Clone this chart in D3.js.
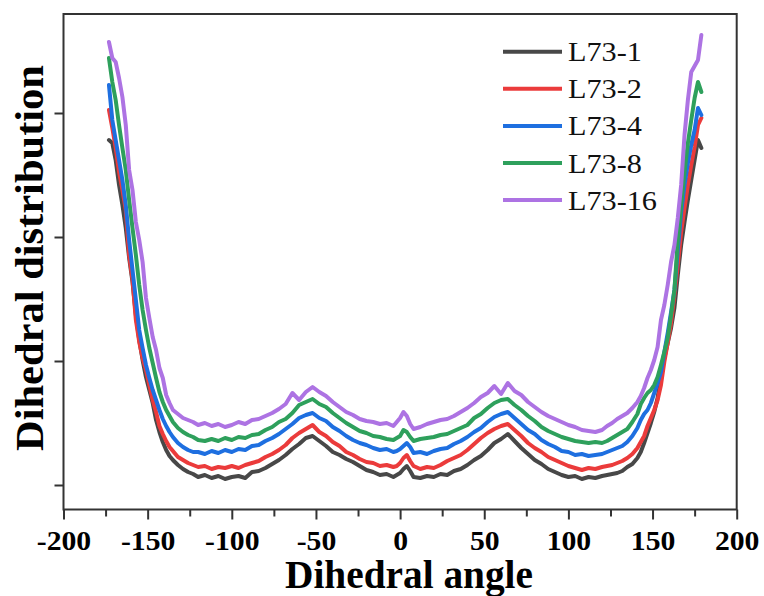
<!DOCTYPE html>
<html>
<head>
<meta charset="utf-8">
<script src="https://cdn.jsdelivr.net/npm/d3@7"></script>
<style>
  html, body { margin: 0; padding: 0; background: #fff; }
  svg { display: block; }
</style>
</head>
<body>
<svg id="chart" width="764" height="596"></svg>
<script>
// ---------------- data ----------------
const seriesNames = ["L73-1", "L73-2", "L73-4", "L73-8", "L73-16"];
const seriesColors = ["#484848", "#eb3b3b", "#1e6fe0", "#2ea05c", "#ad73e3"];

const xTickValues = [-200, -150, -100, -50, 0, 50, 100, 150, 200];
const xTickLabels = ["-200", "-150", "-100", "-50", "0", "50", "100", "150", "200"];
const xMinorTicks = [-175, -125, -75, -25, 25, 75, 125, 175];
const yTickValues = [0, 124, 248, 372];

const angles = [
  -173,-171,-169,-167,-165,-163,-161,-159,-157,-155,-153,-151,-149,-147,-145,-143,-141,-139,-137,-135,-132,-129,-126,-123,
  -120,-116,-112,-108,-104,-100,-96,-92,-88,-84,-80,-76,-72,-68,-64,-60,-56,-52,-48,-44,-40,-36,-32,-28,-24,-20,-16,-12,-8,-4,
  -2,0,2,4,6,8,
  12,16,20,24,28,32,36,40,44,48,52,56,60,64,68,72,76,80,84,88,92,96,100,104,108,112,116,120,
  123,126,129,132,135,138,141,143,145,147,149,151,153,155,157,159,161,163,165,167,169,171,173,175,177,179
];

const l73_1 = [
  345,342,325,300,280,257,227,203,170,145,125,108,95,82,65,53,43,35,29,25,20,16,13,11,
  8,10,7,9,6,8,9,7,13,14,17,21,25,30,36,41,47,49,44,39,33,30,26,23,19,15,13,10,11,8,
  10,12,16,19,14,8,
  7,9,8,11,10,14,16,20,25,29,35,42,46,51,44,37,31,25,21,16,13,10,8,9,6,8,7,9,
  10,11,12,14,18,21,27,33,42,52,62,73,87,109,127,142,157,177,210,240,263,285,305,325,345,337
];
const l73_2 = [
  375,357,337,313,295,275,230,205,165,143,127,115,100,85,73,59,51,44,38,34,28,25,22,20,
  18,19,16,18,17,19,17,20,22,24,28,31,35,40,47,52,56,60,53,49,43,39,33,30,26,23,22,19,20,18,
  19,22,27,30,24,19,
  16,18,17,20,24,27,30,35,41,47,52,56,59,61,55,49,42,37,33,28,25,22,19,17,15,17,16,18,
  19,20,22,24,27,31,37,43,49,59,67,75,85,100,123,142,162,190,220,253,277,300,320,338,360,367
];
const l73_4 = [
  400,365,345,325,305,280,245,215,185,155,137,120,107,95,85,75,66,59,53,48,42,38,35,33,
  33,31,34,32,35,33,36,35,39,40,44,47,51,56,61,67,70,72,67,64,58,54,49,45,42,40,37,35,36,33,
  34,36,39,42,38,32,
  33,31,34,36,37,41,44,48,53,57,63,68,71,73,67,61,55,51,45,41,38,34,33,30,31,29,30,31,
  33,35,37,39,43,49,57,65,71,75,82,92,102,113,133,152,173,195,235,273,300,322,340,355,377,370
];
const l73_8 = [
  427,403,385,360,337,315,285,257,230,200,175,155,137,122,107,93,83,75,69,63,57,53,50,48,
  45,44,46,44,47,45,48,47,50,51,55,58,63,66,72,80,83,86,81,78,72,67,62,58,54,52,49,48,46,45,
  47,49,55,53,48,44,
  46,47,48,50,51,54,57,60,67,71,77,82,85,86,80,75,69,64,58,54,51,48,46,44,43,42,43,42,
  44,47,50,53,56,63,71,81,87,92,95,100,108,120,133,147,170,195,245,280,313,342,365,387,403,393
];
const l73_16 = [
  443,427,423,407,388,360,315,295,263,245,223,187,167,148,135,117,107,90,82,75,71,67,65,63,
  60,62,59,61,58,60,63,61,65,66,69,72,76,81,92,85,93,98,93,89,83,78,73,70,66,64,63,61,62,59,
  63,67,73,69,61,56,
  58,61,63,65,66,69,73,77,82,88,92,99,91,102,94,90,83,78,73,69,66,63,60,58,55,54,53,55,
  59,62,66,69,72,77,83,89,97,107,115,125,138,165,180,200,223,240,267,300,350,385,413,419,425,450
];

const seriesValues = [l73_1, l73_2, l73_4, l73_8, l73_16];

// ---------------- layout ----------------
const svg = d3.select("#chart");
const plot = { left: 63.5, right: 736.7, top: 14, bottom: 509.5 };

const x = d3.scaleLinear().domain([-200, 200]).range([plot.left, plot.right]);
const y = d3.scaleLinear().domain([-24.5, 471]).range([plot.bottom, plot.top]);

const serif = "'Liberation Serif', 'Times New Roman', serif";

// lines
const line = d3.line()
  .x((d, i) => x(angles[i]))
  .y(d => y(d));

seriesValues.forEach((vals, k) => {
  svg.append("path")
    .datum(vals)
    .attr("d", line)
    .attr("fill", "none")
    .attr("stroke", seriesColors[k])
    .attr("stroke-width", 4)
    .attr("stroke-linejoin", "round")
    .attr("stroke-linecap", "round");
});

// x axis (major)
const xAxis = svg.append("g")
  .attr("transform", `translate(0,${plot.bottom})`)
  .call(d3.axisBottom(x).tickValues(xTickValues).tickSize(10)
    .tickFormat((d, i) => xTickLabels[i]));
xAxis.select(".domain").remove();
xAxis.selectAll("line").attr("stroke", "#333").attr("stroke-width", 2);
xAxis.selectAll("text")
  .attr("y", 40.5).attr("dy", 0)
  .attr("transform", "scale(1.1,1)")
  .attr("fill", "#000")
  .style("font-family", serif).style("font-weight", "bold").style("font-size", "27px");

// x axis (minor)
const xMinor = svg.append("g")
  .attr("transform", `translate(0,${plot.bottom})`)
  .call(d3.axisBottom(x).tickValues(xMinorTicks).tickSize(7).tickFormat(""));
xMinor.select(".domain").remove();
xMinor.selectAll("line").attr("stroke", "#333").attr("stroke-width", 2);

// y axis
const yAxis = svg.append("g")
  .attr("transform", `translate(${plot.left},0)`)
  .call(d3.axisLeft(y).tickValues(yTickValues).tickSize(9).tickFormat(""));
yAxis.select(".domain").remove();
yAxis.selectAll("line").attr("stroke", "#333").attr("stroke-width", 2);

// frame
svg.append("rect")
  .attr("x", plot.left).attr("y", plot.top)
  .attr("width", plot.right - plot.left).attr("height", plot.bottom - plot.top)
  .attr("fill", "none").attr("stroke", "#333").attr("stroke-width", 2);

// axis titles
svg.append("text")
  .attr("x", 409).attr("y", 588)
  .attr("text-anchor", "middle")
  .attr("textLength", 248).attr("lengthAdjust", "spacingAndGlyphs")
  .style("font-family", serif).style("font-weight", "bold").style("font-size", "39px")
  .text("Dihedral angle");

svg.append("text")
  .attr("transform", "translate(43,258) rotate(-90)")
  .attr("text-anchor", "middle")
  .attr("textLength", 386).attr("lengthAdjust", "spacingAndGlyphs")
  .style("font-family", serif).style("font-weight", "bold").style("font-size", "40px")
  .text("Dihedral distribution");

// legend
const legendY0 = 51.7, legendStep = 37.1;
seriesNames.forEach((name, k) => {
  const ly = legendY0 + k * legendStep;
  svg.append("line")
    .attr("x1", 503).attr("x2", 562).attr("y1", ly).attr("y2", ly)
    .attr("stroke", seriesColors[k]).attr("stroke-width", 4);
  svg.append("text")
    .attr("transform", `translate(568,${ly + 9.5}) scale(1.08,1)`)
    .style("font-family", serif).style("font-size", "28px")
    .attr("fill", "#111")
    .text(name);
});
</script>
</body>
</html>
